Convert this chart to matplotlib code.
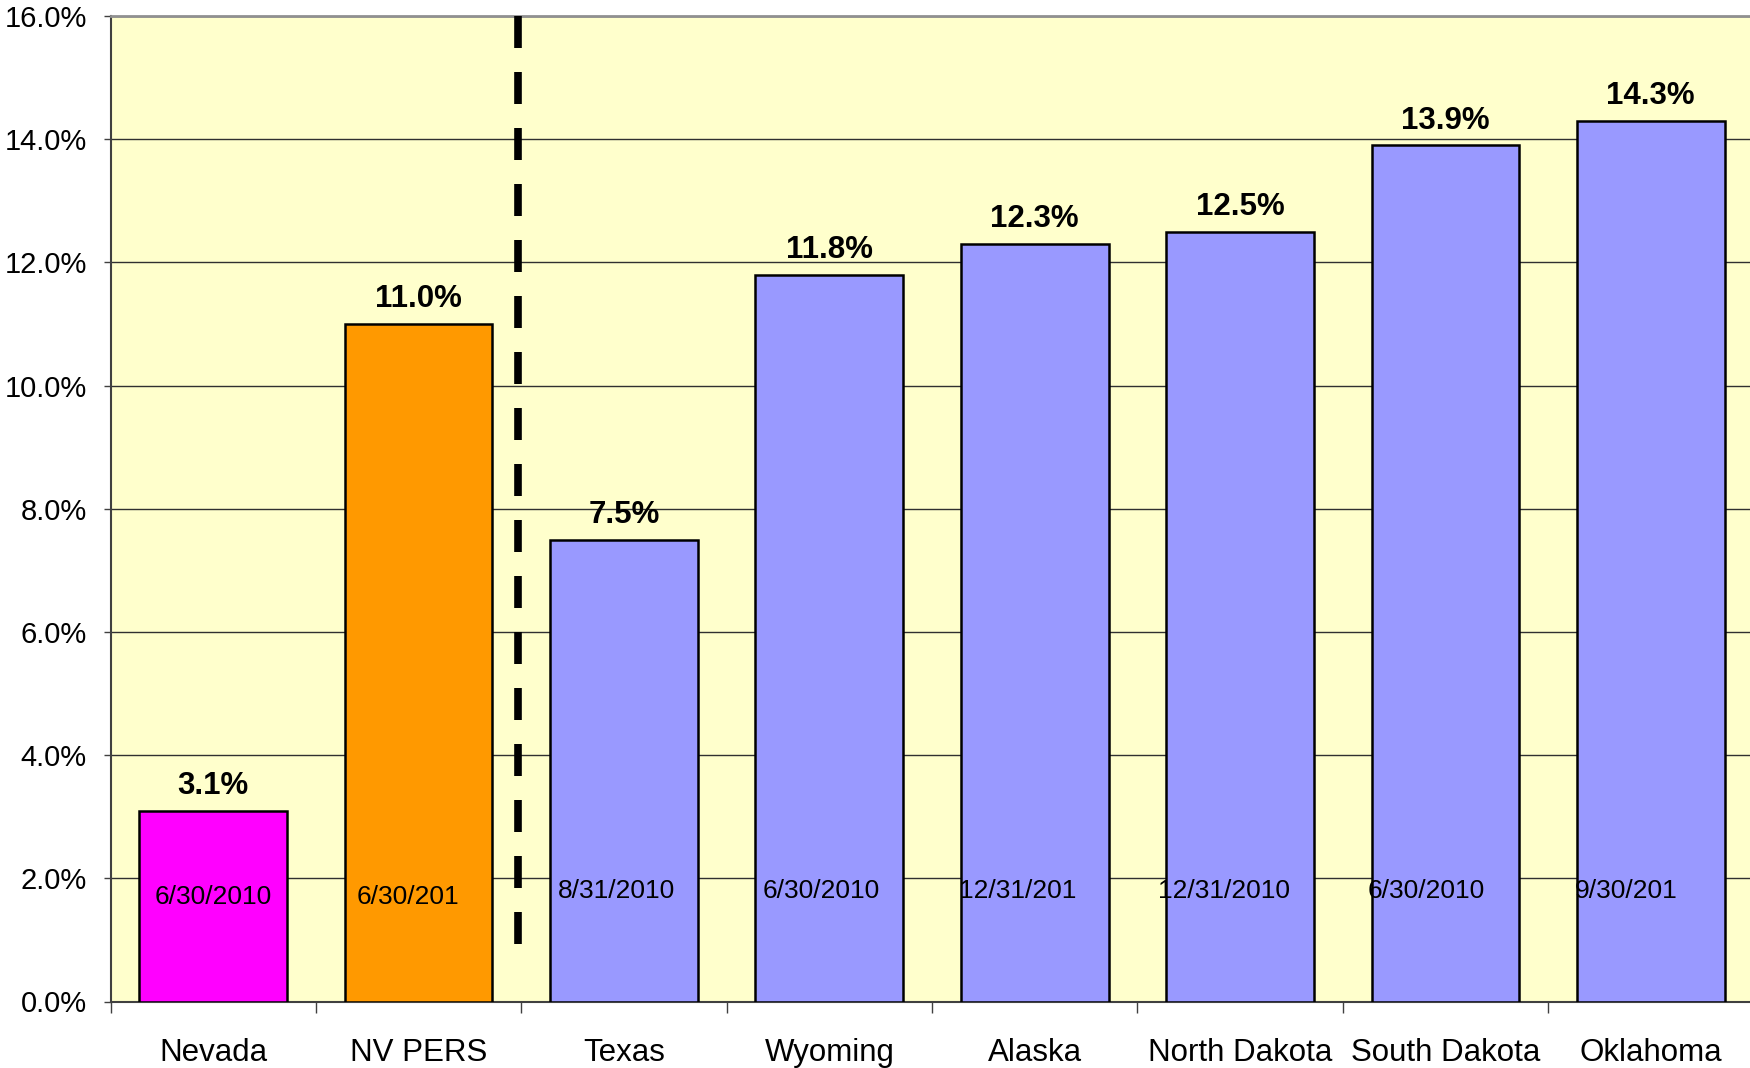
import matplotlib
matplotlib.use("Agg")
import matplotlib.pyplot as plt
from matplotlib.ticker import FuncFormatter, MultipleLocator, FixedLocator

plt.rcParams['font.family'] = ['Liberation Sans', 'DejaVu Sans']

categories = ["Nevada", "NV PERS", "Texas", "Wyoming", "Alaska",
              "North Dakota", "South Dakota", "Oklahoma"]
values = [3.1, 11.0, 7.5, 11.8, 12.3, 12.5, 13.9, 14.3]
value_labels = ["3.1%", "11.0%", "7.5%", "11.8%", "12.3%", "12.5%", "13.9%", "14.3%"]
date_labels = ["6/30/2010", "6/30/201", "8/31/2010", "6/30/2010", "12/31/201",
               "12/31/2010", "6/30/2010", "9/30/201"]
bar_colors = ["#FF00FF", "#FF9900", "#9999FF", "#9999FF", "#9999FF",
              "#9999FF", "#9999FF", "#9999FF"]

# layout (style) parameters
date_x_shift = [0.0, -0.05, -0.035, -0.04, -0.085, -0.08, -0.095, -0.12]
date_y = [1.69, 1.69, 1.80, 1.80, 1.80, 1.80, 1.80, 1.80]

fig = plt.figure(figsize=(17.5, 10.68), dpi=100)
ax = fig.add_axes([110.5/1750, 1 - 1001.5/1068, 1643/1750, (1001.5-16)/1068])
ax.set_facecolor("#FFFFCC")

x = list(range(len(categories)))
ax.bar(x, values, width=0.72, color=bar_colors, edgecolor="black",
       linewidth=1.8, zorder=3)

ax.set_xlim(-0.5, len(categories) - 0.5)
ax.set_ylim(0, 16)
ax.yaxis.set_major_locator(MultipleLocator(2))
ax.yaxis.set_major_formatter(FuncFormatter(lambda v, p: f"{v:.1f}%"))
ax.grid(axis="y", color="#303030", linewidth=1.0, zorder=1)
ax.set_axisbelow(True)

ax.set_xticks(x)
ax.set_xticklabels(categories, fontsize=22.5)
ax.xaxis.set_minor_locator(FixedLocator([i - 0.5 for i in range(len(categories) + 1)]))
ax.tick_params(axis="x", which="major", length=0, pad=26, colors="black")
ax.tick_params(axis="x", which="minor", length=8, width=1.0, color="#404040")
ax.tick_params(axis="y", which="major", length=5, width=1.0, color="#404040",
               labelsize=21, pad=12)

for side in ["left", "bottom"]:
    ax.spines[side].set_color("#404040")
    ax.spines[side].set_linewidth(1.5)
ax.spines["top"].set_color("#909090")
ax.spines["top"].set_linewidth(2)
ax.spines["right"].set_visible(False)

for i, (v, lab) in enumerate(zip(values, value_labels)):
    ax.annotate(lab, (i, v), xytext=(0, 12), textcoords="offset points",
                ha="center", va="baseline", fontsize=22.5, fontweight="bold",
                zorder=5)

for i, d in enumerate(date_labels):
    ax.text(i + date_x_shift[i], date_y[i], d, ha="center", va="center",
            fontsize=19, zorder=5)

# dashed separator between NV PERS and Texas
sep_x = 1.484
ax.plot([sep_x, sep_x], [16, 0.9], color="black", linewidth=5.5,
        dashes=(32*0.72/5.5, 24*0.72/5.5), solid_capstyle="butt",
        dash_capstyle="butt", zorder=4, clip_on=False)

fig.savefig("out.png", dpi=100, facecolor="white")
